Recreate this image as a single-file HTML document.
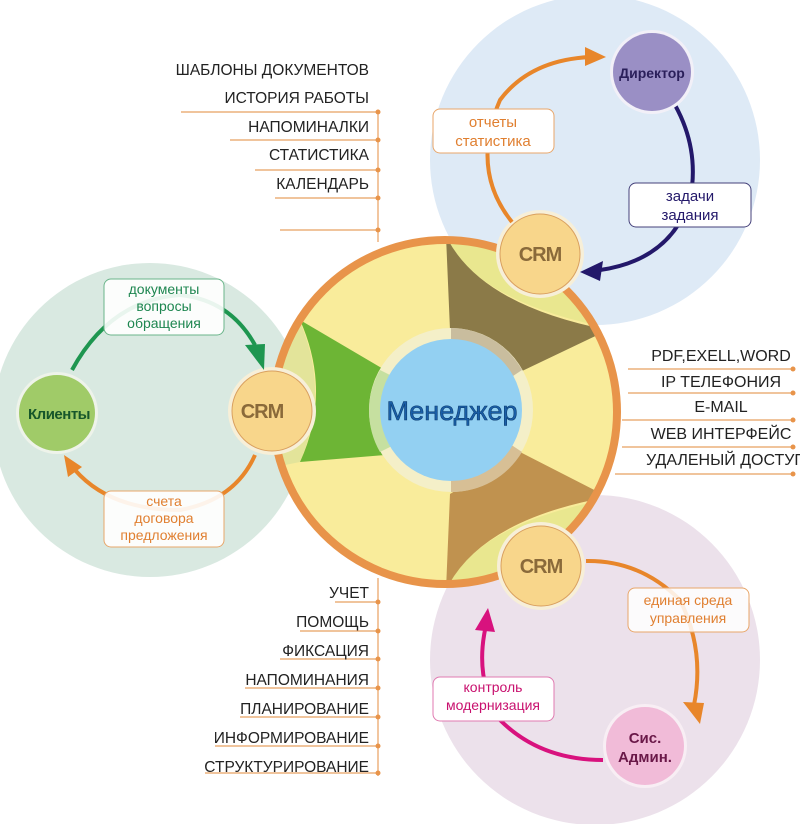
<!DOCTYPE html>
<html><head><meta charset="utf-8"><style>
html,body{margin:0;padding:0;background:#fff;width:800px;height:824px;overflow:hidden}
svg{display:block}
text{font-family:"Liberation Sans","Noto Sans CJK SC",sans-serif}
</style></head><body>
<svg width="800" height="824" viewBox="0 0 800 824" xmlns="http://www.w3.org/2000/svg">
<defs>
<clipPath id="mc"><circle cx="445" cy="412" r="172"/></clipPath>
</defs>
<circle cx="595" cy="160" r="165" fill="#deeaf6"/>
<circle cx="150" cy="420" r="157" fill="#d9e9e1"/>
<circle cx="595" cy="660" r="165" fill="#ece1eb"/>

<circle cx="445" cy="412" r="172" fill="#f9ec9b"/>
<g clip-path="url(#mc)">
  <path d="M446,230 L446,238 Q480,305 620,330 L640,250 Z" fill="#e9e78f"/>
  <path d="M446,600 L446,588 Q480,520 620,497 L640,580 Z" fill="#e9e78f"/>
  <path d="M260,320 L300,322 Q330,392 300,462 L260,470 Z" fill="#e3e49a"/>
  <path d="M446,236 Q480,305 608,330 L520,372 L450,330 Z" fill="#8b7a48"/>
  <path d="M446,590 Q480,520 608,497 L520,452 L450,494 Z" fill="#c0924f"/>
  <path d="M300,320 L385,370 L385,455 L300,462 Q332,392 300,320 Z" fill="#6db535"/>
</g>
<circle cx="445" cy="412" r="172" fill="none" stroke="#e8944a" stroke-width="8"/>

<circle cx="451" cy="410" r="82" fill="#f4efc8"/>
<path d="M451,328 A82,82 0 0 1 522,370 L510,378 A70,70 0 0 0 451,340 Z" fill="#c9bd9e"/>
<path d="M522,452 A82,82 0 0 1 451,492 L451,480 A70,70 0 0 0 510,444 Z" fill="#d7bf95"/>
<path d="M380,370 A82,82 0 0 0 380,452 L392,446 A70,70 0 0 1 392,376 Z" fill="#c6e0a0"/>
<circle cx="451" cy="410" r="71" fill="#93d0f2"/>
<text x="452" y="420" font-size="27" text-anchor="middle" fill="#1a5fa8" stroke="#0d3d70" stroke-width="0.6">Менеджер</text>

<g font-weight="bold" font-size="20" text-anchor="middle" fill="#8a6a3a" letter-spacing="-1">
<circle cx="540" cy="254" r="44" fill="#f7efd8"/><circle cx="540" cy="254" r="40" fill="#f8d68b" stroke="#d9a060"/>
<text x="540" y="261">CRM</text>
<circle cx="272" cy="411" r="44" fill="#f7efd8"/><circle cx="272" cy="411" r="40" fill="#f8d68b" stroke="#d9a060"/>
<text x="262" y="418">CRM</text>
<circle cx="541" cy="566" r="44" fill="#f7efd8"/><circle cx="541" cy="566" r="40" fill="#f8d68b" stroke="#d9a060"/>
<text x="541" y="573">CRM</text>
</g>

<path d="M512,222 Q470,170 500,100 Q530,60 590,57" fill="none" stroke="#e8862a" stroke-width="4"/>
<path d="M585,47 L606,57 L585,66 Z" fill="#e8862a"/>
<path d="M675,105 Q700,150 690,200 Q670,260 600,270" fill="none" stroke="#23186a" stroke-width="4"/>
<path d="M580,272 L603,261 L600,281 Z" fill="#23186a"/>
<circle cx="652" cy="72" r="42" fill="#f2f0f8"/>
<circle cx="652" cy="72" r="39" fill="#9a8fc5"/>
<text x="652" y="78" font-size="14" font-weight="bold" text-anchor="middle" fill="#2a1f5a">Директор</text>
<rect x="433" y="109" width="121" height="44" rx="7" fill="#fff" stroke="#e8a66a"/>
<text x="493" y="127" font-size="15" text-anchor="middle" fill="#e07f30">отчеты</text>
<text x="493" y="146" font-size="15" text-anchor="middle" fill="#e07f30">статистика</text>
<rect x="629" y="183" width="122" height="44" rx="7" fill="#fff" stroke="#44407a"/>
<text x="690" y="201" font-size="15" text-anchor="middle" fill="#23186a">задачи</text>
<text x="690" y="220" font-size="15" text-anchor="middle" fill="#23186a">задания</text>

<path d="M72,370 Q110,300 180,295 Q230,300 255,345" fill="none" stroke="#1e9650" stroke-width="4"/>
<path d="M245,345 L264,370 L265,344 Z" fill="#1e9650"/>
<path d="M255,455 Q235,500 180,510 Q110,510 75,470" fill="none" stroke="#e8862a" stroke-width="4"/>
<path d="M64,455 L82,467 L68,477 Z" fill="#e8862a"/>
<circle cx="57" cy="413" r="41" fill="#eef3ea"/>
<circle cx="57" cy="413" r="38" fill="#a0cb68"/>
<text x="59" y="419" font-size="15" font-weight="bold" text-anchor="middle" fill="#16562a" letter-spacing="-0.5">Клиенты</text>
<rect x="104" y="279" width="120" height="56" rx="7" fill="#fff" fill-opacity="0.9" stroke="#6ab58a"/>
<text x="164" y="294" font-size="14" text-anchor="middle" fill="#1e8650">документы</text>
<text x="164" y="311" font-size="14" text-anchor="middle" fill="#1e8650">вопросы</text>
<text x="164" y="328" font-size="14" text-anchor="middle" fill="#1e8650">обращения</text>
<rect x="104" y="491" width="120" height="56" rx="7" fill="#fff" fill-opacity="0.9" stroke="#e8a66a"/>
<text x="164" y="506" font-size="14" text-anchor="middle" fill="#e07f30">счета</text>
<text x="164" y="523" font-size="14" text-anchor="middle" fill="#e07f30">договора</text>
<text x="164" y="540" font-size="14" text-anchor="middle" fill="#e07f30">предложения</text>

<path d="M586,561 Q640,560 680,600 Q705,650 694,705" fill="none" stroke="#e8862a" stroke-width="4"/>
<path d="M683,702 L700,724 L704,703 Z" fill="#e8862a"/>
<path d="M603,760 Q540,760 500,720 Q475,680 485,630" fill="none" stroke="#d8127e" stroke-width="4"/>
<path d="M488,608 L475,630 L495,632 Z" fill="#d8127e"/>
<circle cx="645" cy="746" r="42" fill="#f8eef4"/>
<circle cx="645" cy="746" r="39" fill="#f1bbd8"/>
<text x="645" y="743" font-size="15" font-weight="bold" text-anchor="middle" fill="#6a1848">Сис.</text>
<text x="645" y="762" font-size="15" font-weight="bold" text-anchor="middle" fill="#6a1848">Админ.</text>
<rect x="628" y="588" width="121" height="44" rx="7" fill="#fff" fill-opacity="0.85" stroke="#e8a66a"/>
<text x="688" y="605" font-size="14" text-anchor="middle" fill="#e07f30">единая среда</text>
<text x="688" y="623" font-size="14" text-anchor="middle" fill="#e07f30">управления</text>
<rect x="433" y="677" width="121" height="44" rx="7" fill="#fff" stroke="#e07ab0"/>
<text x="493" y="692" font-size="14" text-anchor="middle" fill="#c8106e">контроль</text>
<text x="493" y="710" font-size="14" text-anchor="middle" fill="#c8106e">модернизация</text>

<g stroke="#e8a060" stroke-width="1.2" fill="none">
<line x1="378" y1="112" x2="378" y2="242"/>
<line x1="181" y1="112" x2="378" y2="112"/>
<line x1="230" y1="140" x2="378" y2="140"/>
<line x1="255" y1="170" x2="378" y2="170"/>
<line x1="275" y1="198" x2="378" y2="198"/>
<line x1="280" y1="230" x2="378" y2="230"/>
<line x1="628" y1="369" x2="793" y2="369"/>
<line x1="628" y1="393" x2="793" y2="393"/>
<line x1="622" y1="420" x2="793" y2="420"/>
<line x1="622" y1="447" x2="793" y2="447"/>
<line x1="615" y1="474" x2="793" y2="474"/>
<line x1="378" y1="578" x2="378" y2="776"/>
<line x1="335" y1="602" x2="378" y2="602"/>
<line x1="300" y1="631" x2="378" y2="631"/>
<line x1="280" y1="659" x2="378" y2="659"/>
<line x1="245" y1="688" x2="378" y2="688"/>
<line x1="240" y1="717" x2="378" y2="717"/>
<line x1="215" y1="746" x2="378" y2="746"/>
<line x1="205" y1="773" x2="378" y2="773"/>
</g>
<g fill="#e8944a">
<circle cx="378" cy="112" r="2.5"/><circle cx="378" cy="140" r="2.5"/><circle cx="378" cy="170" r="2.5"/><circle cx="378" cy="198" r="2.5"/><circle cx="378" cy="230" r="2.5"/>
<circle cx="793" cy="369" r="2.5"/><circle cx="793" cy="393" r="2.5"/><circle cx="793" cy="420" r="2.5"/><circle cx="793" cy="447" r="2.5"/><circle cx="793" cy="474" r="2.5"/>
<circle cx="378" cy="602" r="2.5"/><circle cx="378" cy="631" r="2.5"/><circle cx="378" cy="659" r="2.5"/><circle cx="378" cy="688" r="2.5"/><circle cx="378" cy="717" r="2.5"/><circle cx="378" cy="746" r="2.5"/><circle cx="378" cy="773" r="2.5"/>
</g>
<g font-size="15.5" fill="#222" text-anchor="end">
<text x="369" y="75">ШАБЛОНЫ ДОКУМЕНТОВ</text>
<text x="369" y="103">ИСТОРИЯ РАБОТЫ</text>
<text x="369" y="132">НАПОМИНАЛКИ</text>
<text x="369" y="160">СТАТИСТИКА</text>
<text x="369" y="189">КАЛЕНДАРЬ</text>
<text x="369" y="598">УЧЕТ</text>
<text x="369" y="627">ПОМОЩЬ</text>
<text x="369" y="656">ФИКСАЦИЯ</text>
<text x="369" y="685">НАПОМИНАНИЯ</text>
<text x="369" y="714">ПЛАНИРОВАНИЕ</text>
<text x="369" y="743">ИНФОРМИРОВАНИЕ</text>
<text x="369" y="772">СТРУКТУРИРОВАНИЕ</text>
</g>
<g font-size="16" fill="#222" text-anchor="middle">
<text x="721" y="361">PDF,EXELL,WORD</text>
<text x="721" y="387">IP ТЕЛЕФОНИЯ</text>
<text x="721" y="412">E-MAIL</text>
<text x="721" y="439">WEB ИНТЕРФЕЙС</text>
<text x="726" y="465">УДАЛЕНЫЙ ДОСТУП</text>
</g>
</svg>
</body></html>
